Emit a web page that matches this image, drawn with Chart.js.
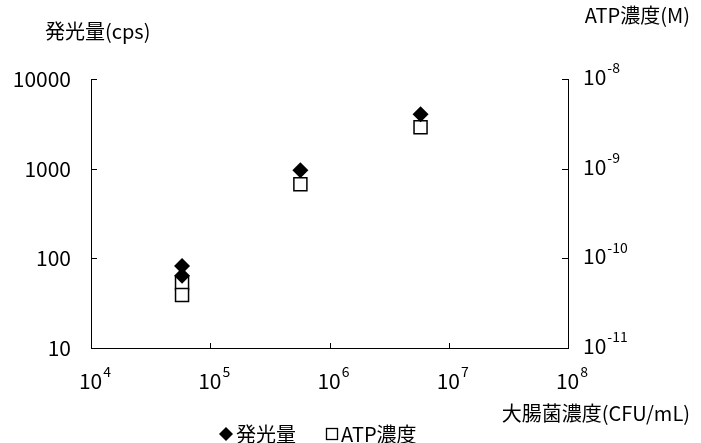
<!DOCTYPE html>
<html><head><meta charset="utf-8">
<script src="https://cdn.jsdelivr.net/npm/chart.js@4.4.1/dist/chart.umd.min.js"></script>
<style>html,body{margin:0;padding:0;background:#fff}#wrap{width:701px;height:443px;position:relative}</style>
</head><body><div id="wrap"><canvas id="c" width="701" height="443"></canvas></div>
<script>
// ---- data ----
const cellConc = [5.8e4, 5.8e4, 5.7e5, 5.8e6];          // 大腸菌濃度 (CFU/mL)
const luminescence = [82, 64, 960, 4050];                 // 発光量 (cps)
const atpConc = [5.3e-11, 3.9e-11, 6.7e-10, 2.9e-9];      // ATP濃度 (M)
const xTicks = [1e4, 1e5, 1e6, 1e7, 1e8];
const xTickExp = ['4', '5', '6', '7', '8'];
const leftTicks = [10, 100, 1000, 10000];
const leftTickLabels = ['10', '100', '1000', '10000'];
const rightTicks = [1e-11, 1e-10, 1e-9, 1e-8];
const rightTickExp = ['-11', '-10', '-9', '-8'];
const seriesNames = ['発光量', 'ATP濃度'];
const leftTitle = '発光量(cps)';
const rightTitle = 'ATP濃度(M)';
const xTitle = '大腸菌濃度(CFU/mL)';

const FONT = '"Noto Sans CJK JP", "Noto Sans", sans-serif';
const TFS = 20;   // title / legend font size
const KFS = 21;   // tick font size
const EFS = 14;   // exponent font size

function drawPow(ctx, x, y, exp, align) {
  ctx.font = KFS + 'px ' + FONT;
  const wb = ctx.measureText('10').width;
  ctx.font = EFS + 'px ' + FONT;
  const we = ctx.measureText(exp).width;
  const total = wb + 1 + we;
  let x0 = align === 'center' ? x - total / 2 : x;
  ctx.textAlign = 'left';
  ctx.textBaseline = 'middle';
  ctx.font = KFS + 'px ' + FONT;
  ctx.fillText('10', x0, y);
  ctx.font = EFS + 'px ' + FONT;
  ctx.fillText(exp, x0 + wb + 1, y - 9);
}

const overlay = {
  id: 'overlay',
  afterDraw(chart) {
    const {ctx, chartArea: a, scales} = chart;
    ctx.save();
    ctx.strokeStyle = '#000';
    ctx.lineWidth = 1;
    ctx.beginPath();
    xTicks.forEach(v => { const p = Math.round(scales.x.getPixelForValue(v)) + 0.5; ctx.moveTo(p, a.bottom); ctx.lineTo(p, a.bottom - 5); });
    leftTicks.forEach(v => { const p = Math.round(scales.y.getPixelForValue(v)) + 0.5; ctx.moveTo(a.left, p); ctx.lineTo(a.left + 6, p); });
    rightTicks.forEach(v => { const p = Math.round(scales.y2.getPixelForValue(v)) + 0.5; ctx.moveTo(a.right, p); ctx.lineTo(a.right - 6, p); });
    ctx.stroke();
    ctx.fillStyle = '#000';
    // tick labels
    ctx.font = KFS + 'px ' + FONT;
    ctx.textAlign = 'right';
    ctx.textBaseline = 'middle';
    leftTicks.forEach((v, i) => ctx.fillText(leftTickLabels[i], a.left - 20, scales.y.getPixelForValue(v)));
    rightTicks.forEach((v, i) => drawPow(ctx, a.right + 15, scales.y2.getPixelForValue(v) - 2, rightTickExp[i], 'left'));
    xTicks.forEach((v, i) => drawPow(ctx, scales.x.getPixelForValue(v) + 4, a.bottom + 33, xTickExp[i], 'center'));
    // titles
    ctx.font = TFS + 'px ' + FONT;
    ctx.textBaseline = 'middle';
    ctx.textAlign = 'left';
    ctx.fillText(leftTitle, 45, 31);
    ctx.textAlign = 'right';
    ctx.fillText(rightTitle, 690, 15);
    ctx.fillText(xTitle, 690, 413);
    // legend
    ctx.textAlign = 'left';
    const ly = 434;
    const ds = chart.data.datasets;
    ctx.beginPath();
    ctx.moveTo(219, ly); ctx.lineTo(226, ly - 7); ctx.lineTo(233, ly); ctx.lineTo(226, ly + 7); ctx.closePath();
    ctx.fillStyle = ds[0].backgroundColor; ctx.fill();
    ctx.fillStyle = '#000';
    ctx.fillText(seriesNames[0], 236, ly);
    ctx.lineWidth = 1.3;
    ctx.strokeStyle = ds[1].borderColor;
    ctx.fillStyle = ds[1].backgroundColor;
    ctx.fillRect(326.5, ly - 5.5, 11, 11);
    ctx.strokeRect(326.5, ly - 5.5, 11, 11);
    ctx.fillStyle = '#000';
    ctx.fillText(seriesNames[1], 341, ly);
    ctx.restore();
  }
};

new Chart(document.getElementById('c'), {
  type: 'scatter',
  data: {
    datasets: [
      {
        label: seriesNames[0], yAxisID: 'y',
        data: cellConc.map((x, i) => ({x, y: luminescence[i]})),
        pointStyle: 'rectRot', pointRadius: 8, pointHoverRadius: 8,
        backgroundColor: '#000', borderColor: '#000', borderWidth: 0
      },
      {
        label: seriesNames[1], yAxisID: 'y2',
        data: cellConc.map((x, i) => ({x, y: atpConc[i]})),
        pointStyle: 'rect', pointRadius: 9.2, pointHoverRadius: 9.2,
        backgroundColor: '#fff', borderColor: '#000', borderWidth: 1.5
      }
    ]
  },
  options: {
    responsive: false, animation: false, devicePixelRatio: 1,
    layout: {padding: {top: 79, left: 0, right: 0, bottom: 0}},
    plugins: {legend: {display: false}, tooltip: {enabled: false}},
    scales: {
      x: {
        type: 'logarithmic', position: 'bottom', min: 1e4, max: 1e8,
        afterBuildTicks: s => { s.ticks = xTicks.map(v => ({value: v})); },
        afterFit: s => { s.height = 95; },
        grid: {display: false},
        border: {display: true, color: '#000', width: 1},
        ticks: {display: false}
      },
      y: {
        type: 'logarithmic', position: 'left', min: 10, max: 10000,
        afterBuildTicks: s => { s.ticks = leftTicks.map(v => ({value: v})); },
        afterFit: s => { s.width = 91; },
        grid: {display: false},
        border: {display: true, color: '#000', width: 1},
        ticks: {display: false}
      },
      y2: {
        type: 'logarithmic', position: 'right', min: 1e-11, max: 1e-8,
        afterBuildTicks: s => { s.ticks = rightTicks.map(v => ({value: v})); },
        afterFit: s => { s.width = 133; },
        grid: {display: false},
        border: {display: true, color: '#000', width: 1},
        ticks: {display: false}
      }
    }
  },
  plugins: [overlay]
});
</script></body></html>
